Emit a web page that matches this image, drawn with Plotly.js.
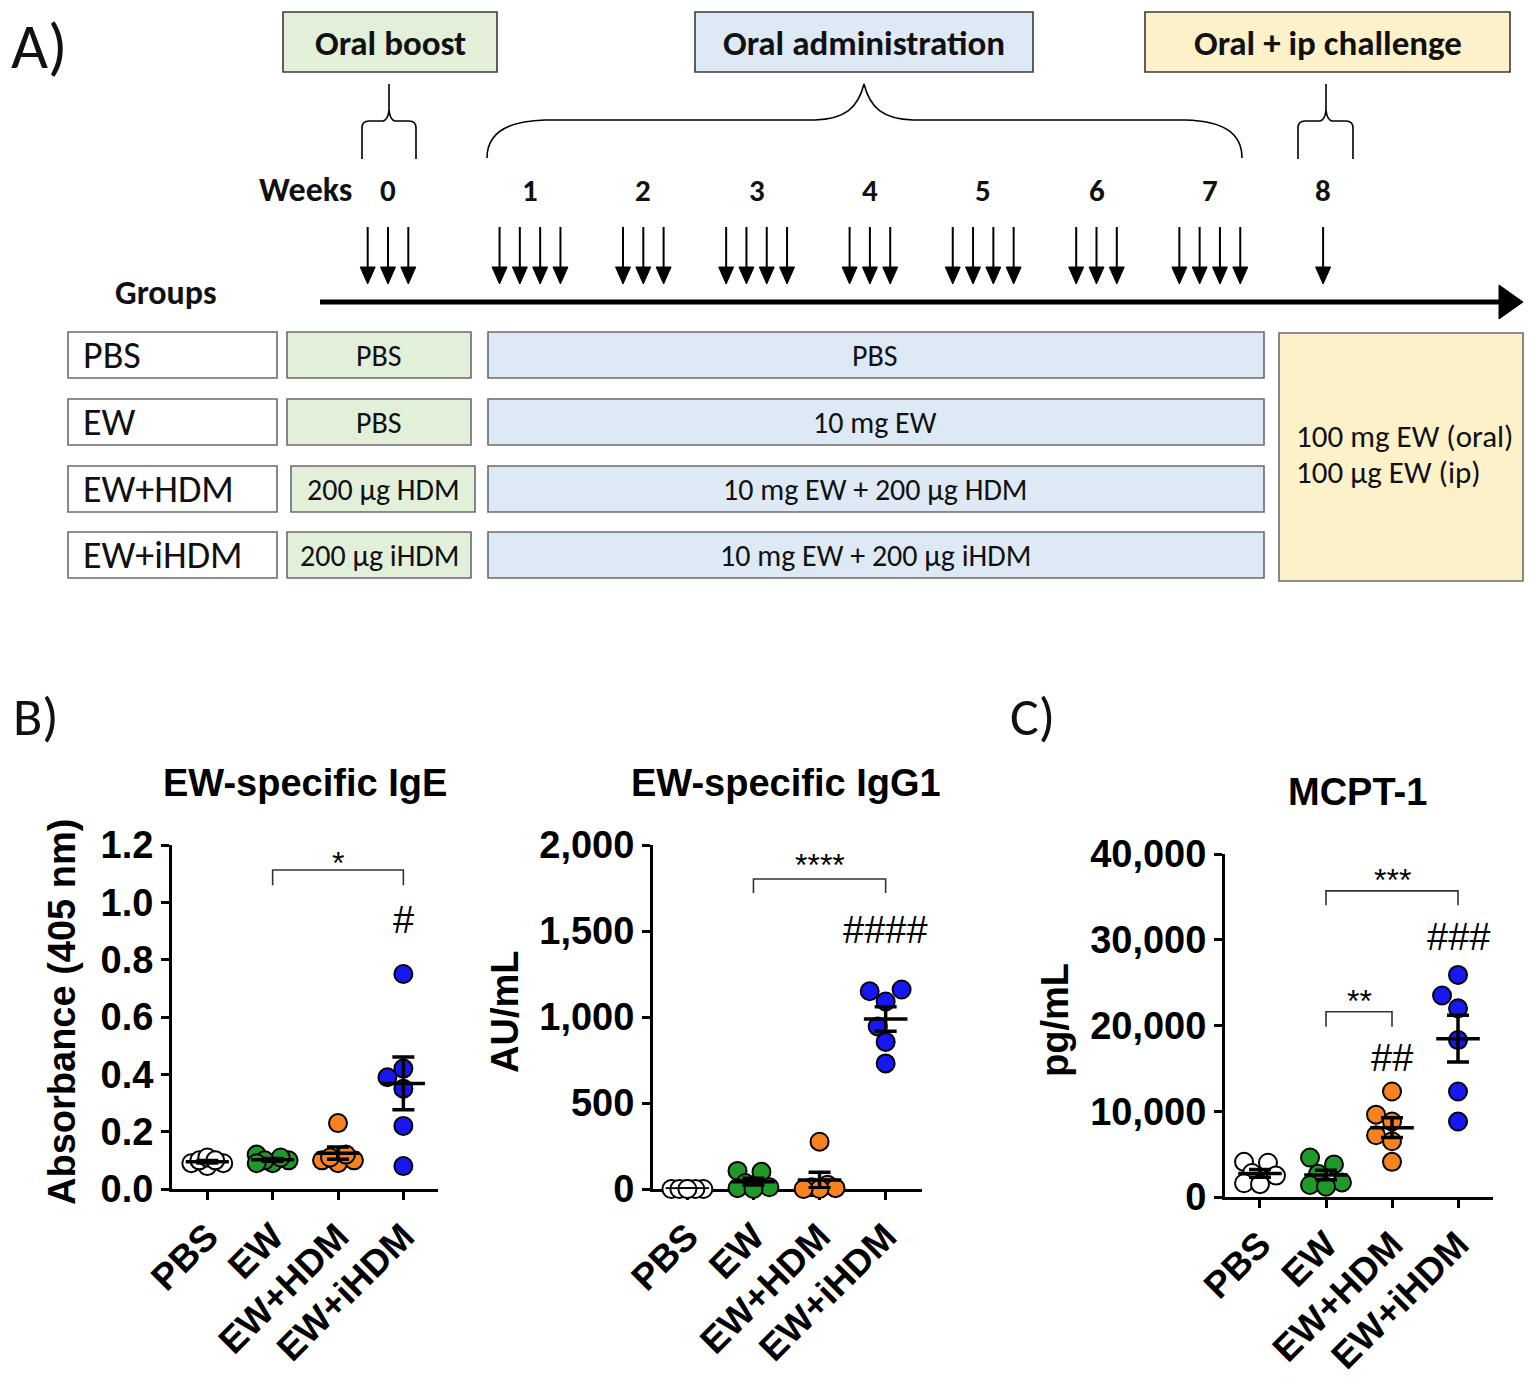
<!DOCTYPE html>
<html><head><meta charset="utf-8">
<script src="https://cdn.plot.ly/plotly-3.0.1.min.js"></script>
<style>html,body{margin:0;padding:0;background:#fff}#chart{width:1535px;height:1377px}</style>
</head><body><div id="chart"></div>
<script>
// ---------------- DATA ----------------
const categories = ['PBS', 'EW', 'EW+HDM', 'EW+iHDM'];
const groupColors = ['#ffffff', '#1f9a2a', '#f7821f', '#1717f2'];

const igePBS  = [0.08, 0.09, 0.10, 0.09, 0.11, 0.10];
const igeEW   = [0.09, 0.10, 0.11, 0.12, 0.10, 0.09];
const igeHDM  = [0.23, 0.10, 0.09, 0.11, 0.10, 0.12];
const igeIHDM = [0.75, 0.42, 0.39, 0.35, 0.22, 0.08];

const igg1PBS  = [0, 0, 0, 0, 0, 0];
const igg1EW   = [100, 105, 35, 10, 5, 0];
const igg1HDM  = [275, 25, 10, 5, 0, 0];
const igg1IHDM = [1160, 1150, 1090, 945, 855, 730];

const mcptPBS  = [4100, 4000, 2800, 2500, 1600, 1500];
const mcptEW   = [4600, 3800, 2700, 1700, 1400, 1200];
const mcptHDM  = [12300, 9600, 8800, 7200, 6500, 4100];
const mcptIHDM = [25900, 23500, 22000, 18300, 12300, 8800];

const panelTitles = ['EW-specific IgE', 'EW-specific IgG1', 'MCPT-1'];
const yTitles = ['Absorbance (405 nm)', 'AU/mL', 'pg/mL'];

const weeks = [0, 1, 2, 3, 4, 5, 6, 7, 8];
const dosesPerWeek = [3, 4, 3, 4, 3, 4, 3, 4, 1];
const phaseLabels = ['Oral boost', 'Oral administration', 'Oral + ip challenge'];
const groupNames = ['PBS', 'EW', 'EW+HDM', 'EW+iHDM'];
const boostText = ['PBS', 'PBS', '200 µg HDM', '200 µg iHDM'];
const adminText = ['PBS', '10 mg EW', '10 mg EW + 200 µg HDM', '10 mg EW + 200 µg iHDM'];
const challengeText = ['100 mg EW (oral)', '100 µg EW (ip)'];

// ---------------- LAYOUT HELPERS ----------------
const W = 1535, H = 1377;
const X = x => x / W, Y = y => 1 - y / H;
const CF = 'Liberation Sans, Arial, sans-serif';
const SF = 'Carlito, Lato, sans-serif';

const panels = [
  {groups: [igePBS, igeEW, igeHDM, igeIHDM], xl: 172, xr: 438, yb: 1189, yt: 845, xrange: [-0.54, 3.53], yrange: [0, 1.2001], dtick: 0.2, fmt: '.1f',
   tx: 305, ty: 783, ytx: 62, yty: 1012,
   brackets: [{a: 1, b: 3, top: 1.113, bot: 1.06, label: '*', ly: 1.137}],
   hashes: [{g: 3, y: 0.94, t: '#'}]},
  {groups: [igg1PBS, igg1EW, igg1HDM, igg1IHDM], xl: 653, xr: 922, yb: 1189, yt: 845, xrange: [-0.52, 3.55], yrange: [0, 2000], dtick: 500, fmt: ',',
   tx: 786, ty: 783, ytx: 505, yty: 1012,
   brackets: [{a: 1, b: 3, top: 1802, bot: 1721, label: '****', ly: 1884}],
   hashes: [{g: 3, y: 1506, t: '####'}]},
  {groups: [mcptPBS, mcptEW, mcptHDM, mcptIHDM], xl: 1225, xr: 1493, yb: 1197, yt: 854, xrange: [-0.53, 3.53], yrange: [0, 40000], dtick: 10000, fmt: ',',
   tx: 1357, ty: 792, ytx: 1055, yty: 1020,
   brackets: [{a: 1, b: 3, top: 35700, bot: 34030, label: '***', ly: 36950},
              {a: 1, b: 2, top: 21600, bot: 19850, label: '**', ly: 22840}],
   hashes: [{g: 2, y: 16170, t: '##'}, {g: 3, y: 30340, t: '###'}]}
];

// deterministic beeswarm offsets (in category units)
function swarm(vals, pxU, pxC, d) {
  const order = vals.map((v, i) => i).sort((a, b) => vals[a] - vals[b]);
  const step = 0.42 * d, cands = [0, -1, 1, -2, 2];
  const placed = [], off = new Array(vals.length);
  for (const i of order) {
    const y = vals[i] * pxU;
    let best = 0, bestD = -1;
    for (const k of cands) {
      const x = k * step;
      let md = Infinity;
      for (const p of placed) md = Math.min(md, Math.hypot(p[0] - x, p[1] - y));
      if (md >= 0.9 * d) { best = x; bestD = Infinity; break; }
      if (md > bestD) { bestD = md; best = x; }
    }
    placed.push([best, y]);
    off[i] = best / pxC;
  }
  return off;
}
const mean = a => a.reduce((s, v) => s + v, 0) / a.length;
const sem = a => { const m = mean(a); return Math.sqrt(a.reduce((s, v) => s + (v - m) ** 2, 0) / (a.length - 1)) / Math.sqrt(a.length); };

const traces = [];
const layout = {
  width: W, height: H, margin: {l: 0, r: 0, t: 0, b: 0, pad: 0},
  paper_bgcolor: '#fff', plot_bgcolor: 'rgba(0,0,0,0)', showlegend: false,
  shapes: [], annotations: [], font: {family: CF, color: '#000'}
};

panels.forEach((p, pi) => {
  const sx = pi === 0 ? '' : String(pi + 1);
  const xa = 'x' + sx, ya = 'y' + sx;
  const pxU = (p.yb - p.yt) / (p.yrange[1] - p.yrange[0]);
  const pxC = (p.xr - p.xl) / (p.xrange[1] - p.xrange[0]);
  layout['xaxis' + sx] = {
    domain: [X(p.xl), X(p.xr)], range: p.xrange, anchor: ya,
    tickvals: [0, 1, 2, 3], ticktext: categories, tickangle: -45,
    showline: true, linewidth: 3, linecolor: '#000', ticks: 'outside', ticklen: 8, tickwidth: 3, tickcolor: '#000',
    tickfont: {family: CF, size: 37, weight: 'bold', color: '#000'},
    showgrid: false, zeroline: false, layer: 'below traces', fixedrange: true
  };
  layout['yaxis' + sx] = {
    domain: [Y(p.yb), Y(p.yt)], range: p.yrange, anchor: xa,
    tick0: 0, dtick: p.dtick, tickformat: p.fmt,
    showline: true, linewidth: 3, linecolor: '#000', ticks: 'outside', ticklen: 8, tickwidth: 3, tickcolor: '#000',
    tickfont: {family: CF, size: 38, weight: 'bold', color: '#000'},
    showgrid: false, zeroline: false, layer: 'below traces', fixedrange: true
  };
  const mx = [], my = [], ex = [], ey = [], ee = [];
  p.groups.forEach((vals, g) => {
    const off = swarm(vals, pxU, pxC, 19);
    traces.push({
      type: 'scatter', mode: 'markers', xaxis: xa, yaxis: ya, cliponaxis: false,
      x: vals.map((v, i) => g + off[i]), y: vals, name: categories[g],
      marker: {size: 18, color: groupColors[g], line: {color: '#000', width: 2}}
    });
    const m = mean(vals);
    mx.push(g - 0.33, g + 0.33, null); my.push(m, m, null);
    ex.push(g); ey.push(m); ee.push(sem(vals));
  });
  traces.push({type: 'scatter', mode: 'lines', xaxis: xa, yaxis: ya, cliponaxis: false, x: mx, y: my,
    line: {color: '#000', width: 3.5}, hoverinfo: 'skip'});
  traces.push({type: 'scatter', mode: 'markers', xaxis: xa, yaxis: ya, cliponaxis: false, x: ex, y: ey,
    marker: {size: 1, color: 'rgba(0,0,0,0)'},
    error_y: {type: 'data', array: ee, visible: true, color: '#000', thickness: 3.5, width: 11}, hoverinfo: 'skip'});

  p.brackets.forEach(b => {
    layout.shapes.push({type: 'path', xref: xa, yref: ya,
      path: `M ${b.a},${b.bot} L ${b.a},${b.top} L ${b.b},${b.top} L ${b.b},${b.bot}`,
      line: {color: '#333', width: 1.6}});
    layout.annotations.push({xref: xa, yref: ya, x: (b.a + b.b) / 2, y: b.ly, text: b.label, showarrow: false,
      font: {family: CF, size: 32, color: '#000'}, xanchor: 'center', yanchor: 'middle'});
  });
  p.hashes.forEach(h => {
    layout.annotations.push({xref: xa, yref: ya, x: h.g, y: h.y, text: h.t, showarrow: false,
      font: {family: CF, size: 38, color: '#000'}, xanchor: 'center', yanchor: 'middle'});
  });
  layout.annotations.push({xref: 'paper', yref: 'paper', x: X(p.tx), y: Y(p.ty), text: '<b>' + panelTitles[pi] + '</b>',
    showarrow: false, font: {family: CF, size: 38, color: '#000'}, xanchor: 'center', yanchor: 'middle'});
  layout.annotations.push({xref: 'paper', yref: 'paper', x: X(p.ytx), y: Y(p.yty), text: '<b>' + yTitles[pi] + '</b>',
    showarrow: false, textangle: -90, font: {family: CF, size: 38, color: '#000'}, xanchor: 'center', yanchor: 'middle'});
});

// ---------------- PANEL A SCHEMATIC ----------------
const S = layout.shapes, A = layout.annotations;
function rect(x0, y0, x1, y1, fill, lc) {
  S.push({type: 'rect', xref: 'paper', yref: 'paper', x0: X(x0), x1: X(x1), y0: Y(y1), y1: Y(y0),
    fillcolor: fill, line: {color: lc || '#595959', width: 1.6}, layer: 'below'});
}
function txt(x, y, t, size, anchor, bold) {
  A.push({xref: 'paper', yref: 'paper', x: X(x), y: Y(y), text: bold ? '<b>' + t + '</b>' : t, showarrow: false,
    font: {family: SF, size: size, color: '#111'}, xanchor: anchor || 'center', yanchor: 'middle'});
}
function pathPx(cmds, width, fill) {
  const s = cmds.map(c => {
    const pts = [];
    for (let k = 1; k < c.length; k += 2) pts.push(X(c[k]).toFixed(5) + ',' + Y(c[k + 1]).toFixed(5));
    return c[0] + ' ' + pts.join(' ');
  }).join(' ');
  S.push({type: 'path', xref: 'paper', yref: 'paper', path: s + (fill ? ' Z' : ''),
    line: {color: '#000', width: width}, fillcolor: fill || 'rgba(0,0,0,0)'});
}

// phase header boxes
const phaseBoxes = [[283, 497, '#e2efd9'], [695, 1033, '#dde9f5'], [1145, 1510, '#fdf1ca']];
phaseBoxes.forEach((b, i) => { rect(b[0], 12, b[1], 72, b[2], '#3a3a3a'); txt((b[0] + b[1]) / 2, 43, phaseLabels[i], 35, 'center', true); });

// braces
function smallBrace(l, r, c) {
  pathPx([['M', l, 159], ['L', l, 128], ['Q', l, 121, l + 7, 121], ['L', c - 6, 121], ['Q', c - 1, 120, c, 110], ['L', c, 84],
          ['L', c, 110], ['Q', c + 1, 120, c + 6, 121], ['L', r - 7, 121], ['Q', r, 121, r, 128], ['L', r, 159]], 1.6);
}
smallBrace(362, 416, 389);
smallBrace(1298, 1353, 1326);
pathPx([['M', 487, 158], ['C', 487, 134, 505, 121, 545, 120], ['L', 815, 120], ['C', 845, 119, 858, 108, 864, 84],
        ['C', 870, 108, 883, 119, 913, 120], ['L', 1185, 120], ['C', 1225, 121, 1242, 134, 1242, 158]], 1.6);

// weeks and dose arrows
const weekX = w => (w === 0 ? 388 : 530 + (w - 1) * 113.3);
txt(305, 190, 'Weeks', 34, 'center', true);
weeks.forEach((w, i) => {
  txt(weekX(w), 190, String(w), 31, 'center', true);
  const n = dosesPerWeek[i];
  for (let j = 0; j < n; j++) {
    const x = weekX(w) + (j - (n - 1) / 2) * 20.3;
    S.push({type: 'line', xref: 'paper', yref: 'paper', x0: X(x), x1: X(x), y0: Y(227), y1: Y(272), line: {color: '#000', width: 2}});
    pathPx([['M', x - 7.5, 267], ['L', x + 7.5, 267], ['L', x, 284]], 1, '#000');
  }
});
// timeline
S.push({type: 'line', xref: 'paper', yref: 'paper', x0: X(320), x1: X(1502), y0: Y(302), y1: Y(302), line: {color: '#000', width: 5}});
pathPx([['M', 1499, 285], ['L', 1523, 302], ['L', 1499, 319]], 1, '#000');
txt(166, 293, 'Groups', 34, 'center', true);

// group rows
const rowTop = [332, 399, 466, 532];
groupNames.forEach((g, i) => {
  const y0 = rowTop[i], y1 = y0 + 46, yc = (y0 + y1) / 2;
  rect(68, y0, 277, y1, '#ffffff', '#6b6b6b');
  txt(81, yc, g, 38, 'left');
  const gx0 = i === 2 ? 291 : 287, gx1 = gx0 + 184;
  rect(gx0, y0, gx1, y1, '#e2efd9', '#6b6b6b');
  txt((gx0 + gx1) / 2, yc, boostText[i], 30);
  rect(488, y0, 1264, y1, '#dde9f5', '#6b6b6b');
  txt(875, yc, adminText[i], 30);
});
rect(1279, 333, 1523, 581, '#fdf1ca', '#6b6b6b');
txt(1294, 436, challengeText[0], 31, 'left');
txt(1294, 472, challengeText[1], 31, 'left');

// panel letters
txt(9, 46, 'A)', 64, 'left');
txt(11, 717, 'B)', 54, 'left');
txt(1008, 717, 'C)', 54, 'left');

Plotly.newPlot('chart', traces, layout, {staticPlot: true, displayModeBar: false});
</script></body></html>
